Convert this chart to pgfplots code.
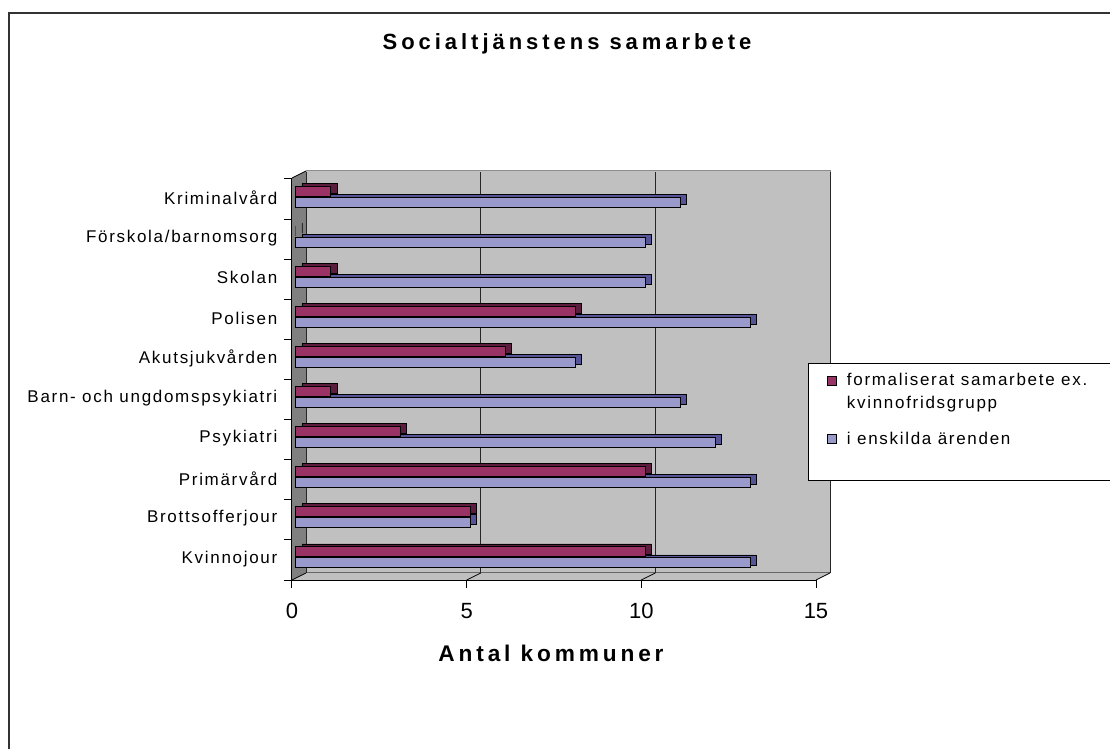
\documentclass[border=0pt]{standalone}
\usepackage{fontspec}
\setmainfont{Liberation Sans}
\usepackage{pgfplots}
\pgfplotsset{compat=1.18}
\newfontfamily\catfont[LetterSpace=10]{Liberation Sans}
\newfontfamily\ttlfont[LetterSpace=18]{Liberation Sans Bold}
\newfontfamily\axfont[LetterSpace=17]{Liberation Sans Bold}
\newcommand\catf{\catfont\fontsize{12.75}{16.75}\selectfont}
\newcommand\tickf{\fontsize{16.5}{19}\selectfont}
\definecolor{purpF}{RGB}{153,51,102}
\definecolor{purpD}{RGB}{92,28,62}
\definecolor{blueF}{RGB}{153,153,204}
\definecolor{blueD}{RGB}{84,84,150}
\definecolor{wall}{RGB}{192,192,192}
\definecolor{side}{RGB}{128,128,128}
\begin{document}
\begin{tikzpicture}
\begin{scope}[x=0.75pt,y=0.75pt,shift={(-292,-169)}]
\draw[line width=1.2pt, black!80] (9,-11) -- (9,736) -- (1120,736);
\fill[wall] (306,176) rectangle (830,578);
\draw[black!45, line width=0.75pt] (306,578) -- (830,578) -- (830,176);
\fill[side] (292,571) -- (306,578) -- (306,176) -- (292,169) -- cycle;
\fill[wall] (292,169) -- (306,176) -- (830,176) -- (816,169) -- cycle;
\draw[black!60, line width=0.75pt] (306,176) -- (830,176);
\draw[black, line width=0.6pt] (466.67,169) -- (480.67,176) (641.33,169) -- (655.33,176) (816,169) -- (830,176) (292,169)--(306,176) (292,571) -- (306,578);
\end{scope}
\begin{axis}[
  at={(0pt,0pt)}, anchor=south west,
  scale only axis, width=393pt, height=300.75pt,
  xmin=0, xmax=15, ymin=-0.5, ymax=9.5,
  clip=false,
  axis x line*=bottom, axis y line*=left,
  axis line style={black, line width=0.75pt},
  tick style={black, line width=0.75pt},
  tick align=outside, major tick length=6pt,
  xtick={0,5,10,15},
  ytick={-0.5,0.5,1.5,2.5,3.5,4.5,5.5,6.5,7.5,8.5,9.5},
  y tick label as interval,
  yticklabels={Kvinnojour,Brottsofferjour,Primärvård,Psykiatri,Barn- och ungdomspsykiatri,Akutsjukvården,Polisen,Skolan,Förskola/barnomsorg,Kriminalvård},
  yticklabel style={font=\catf, anchor=east, xshift=-1.5pt, yshift=1pt},
  /pgf/number format/assume math mode=true,
  xticklabel style={font=\tickf, anchor=base, yshift=-22.5pt},
  xmajorgrids,
  major grid style={black!85, line width=0.6pt, xshift=10.5pt, yshift=5.25pt},
  title={Socialtjänstens samarbete},
  title style={at={(axis description cs:0.5248,1.3042)}, anchor=base, font=\ttlfont\fontsize{16.5}{19}\selectfont},
  xlabel={Antal kommuner},
  xlabel style={at={(axis description cs:0.4943,-0.2020)}, anchor=base, font=\axfont\fontsize{17}{20}\selectfont},
  legend image code/.code={\draw[#1, draw=black, line width=0.6pt] (0pt,-3.4pt) rectangle (6.75pt,3.4pt);},
  legend style={at={(axis description cs:0.9847,0.5411)}, anchor=north west, draw=black, line width=0.75pt, fill=white, font=\catf, inner xsep=14pt, inner ysep=6pt, row sep=13.5pt, nodes={inner sep=1.5pt, align=left}, /tikz/every odd column/.append style={column sep=6pt}},
  legend cell align=left,
]
\addplot[xbar, bar width=7.5pt, bar shift=-2.25pt, xshift=7.5pt, yshift=2.25pt, fill=blueD, draw=black, line width=0.6pt, forget plot]
 coordinates {(13,0) (5,1) (13,2) (12,3) (11,4) (8,5) (13,6) (10,7) (10,8) (11,9)};
\addplot[xbar, bar width=7.5pt, bar shift=-2.25pt, xshift=3pt, fill=blueF, draw=black, line width=0.75pt, forget plot]
 coordinates {(13,0) (5,1) (13,2) (12,3) (11,4) (8,5) (13,6) (10,7) (10,8) (11,9)};
\addplot[xbar, bar width=7.5pt, bar shift=6pt, xshift=7.5pt, yshift=2.25pt, fill=purpD, draw=black, line width=0.6pt, forget plot]
 coordinates {(10,0) (5,1) (10,2) (3,3) (1,4) (6,5) (8,6) (1,7) (0,8) (1,9)};
\addplot[xbar, bar width=7.5pt, bar shift=6pt, xshift=3pt, fill=purpF, draw=black, line width=0.75pt, forget plot]
 coordinates {(10,0) (5,1) (10,2) (3,3) (1,4) (6,5) (8,6) (1,7) (0,8) (1,9)};
\addlegendimage{fill=purpF, yshift=8.4pt}
\addlegendentry{formaliserat samarbete ex.\hspace*{20pt}\\kvinnofridsgrupp}
\addlegendimage{fill=blueF}
\addlegendentry{i enskilda ärenden}
\addlegendimage{empty legend}
\addlegendentry{}
\end{axis}
\pgfresetboundingbox
\path[use as bounding box] (-219pt,-126.75pt) rectangle (613.5pt,435pt);
\end{tikzpicture}
\end{document}
